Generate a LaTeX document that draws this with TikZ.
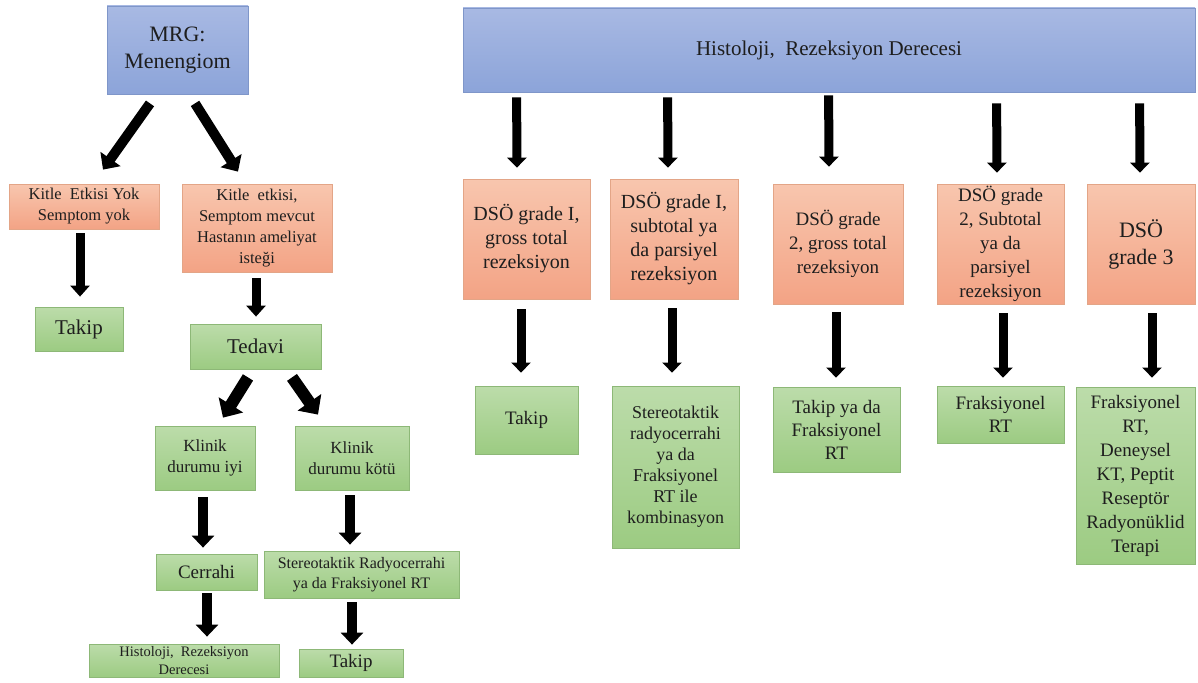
\documentclass[tikz,border=0pt]{standalone}
\usepackage{fontspec}
\setmainfont{Liberation Serif}
\usetikzlibrary{arrows.meta,calc}
\definecolor{txt}{HTML}{1E1E1E}
\definecolor{blueT}{HTML}{A8B9E3}
\definecolor{blueB}{HTML}{8CA4D9}
\definecolor{blueD}{HTML}{7F96C9}
\definecolor{orT}{HTML}{F8C6AE}
\definecolor{orB}{HTML}{F3A385}
\definecolor{orD}{HTML}{E3A587}
\definecolor{grT}{HTML}{BCDCAA}
\definecolor{grB}{HTML}{9CCB82}
\definecolor{grD}{HTML}{8DB877}
\newcommand\myfs[2]{\fontsize{#1}{#2}\selectfont}
\tikzset{
  boxbase/.style={rectangle, inner sep=0pt, align=center, text=txt, line width=0.8pt},
  bluebox/.style={boxbase, draw=blueD, top color=blueT, bottom color=blueB},
  orbox/.style={boxbase, draw=orD, top color=orT, bottom color=orB},
  grbox/.style={boxbase, draw=grD, top color=grT, bottom color=grB},
  arrv/.style={draw=black, line width=9pt, -{Triangle[width=19pt,length=10pt]}},
  arrm/.style={draw=black, line width=9pt, -{Triangle[width=19pt,length=11pt]}},
  arrl/.style={draw=black, line width=10pt, -{Triangle[width=22pt,length=12pt]}},
  arrd/.style={draw=black, line width=10pt, -{Triangle[width=24pt,length=13pt]}},
  arrD/.style={draw=black, line width=12pt, -{Triangle[width=28pt,length=15pt]}},
}
\begin{document}
\begin{tikzpicture}[x=1pt,y=-1pt]
\useasboundingbox[fill=white] (0,0) rectangle (1198,682);
% left column
\node[bluebox, minimum width=141pt, minimum height=88pt, font=\myfs{22}{27}] (mrg) at (177.5,50) {MRG:\\Menengiom};
\node[orbox, minimum width=150pt, minimum height=45pt, font=\myfs{16.5}{21}] (kyok) at (84,206.5) {Kitle\ \ Etkisi Yok\\Semptom yok};
\node[orbox, minimum width=150pt, minimum height=88pt, font=\myfs{16.5}{21}] (kvar) at (257,228) {Kitle\ \ etkisi,\\Semptom mevcut\\Hastanın ameliyat\\isteği};
\node[grbox, minimum width=88pt, minimum height=44pt, font=\myfs{21}{25}] (takipa) at (79,329) {Takip};
\node[grbox, minimum width=131pt, minimum height=45pt, font=\myfs{21}{25}] (tedavi) at (255.5,346.5) {Tedavi};
\node[grbox, minimum width=100pt, minimum height=64pt, font=\myfs{17}{21}] (kiyi) at (205,458) {Klinik\\durumu iyi};
\node[grbox, minimum width=114pt, minimum height=64pt, font=\myfs{17}{21}] (kkotu) at (352,458) {Klinik\\durumu kötü};
\node[grbox, minimum width=101pt, minimum height=36pt, font=\myfs{19}{23}] (cerrahi) at (206.5,572) {Cerrahi};
\node[grbox, minimum width=195pt, minimum height=47pt, font=\myfs{16}{20}] (stra) at (361.5,574.5) {Stereotaktik Radyocerrahi\\ya da Fraksiyonel RT};
\node[grbox, minimum width=190pt, minimum height=33pt, font=\myfs{14.5}{18}] (hista) at (184,660.5) {Histoloji,\ \ Rezeksiyon\\Derecesi};
\node[grbox, minimum width=104pt, minimum height=28pt, font=\myfs{19}{23}] (takipb) at (351,663) {Takip};
% right part
\node[bluebox, minimum width=732pt, minimum height=84pt, font=\myfs{21}{25}] (hist) at (829,50) {Histoloji,\ \ Rezeksiyon Derecesi};
\node[orbox, minimum width=127pt, minimum height=120pt, font=\myfs{20}{24}] (oA) at (526.5,239) {DSÖ grade I,\\gross total\\rezeksiyon};
\node[orbox, minimum width=128pt, minimum height=120pt, font=\myfs{20}{24}] (oB) at (674,239) {DSÖ grade I,\\subtotal ya\\da parsiyel\\rezeksiyon};
\node[orbox, minimum width=130pt, minimum height=120pt, font=\myfs{19}{24}] (oC) at (838,244) {DSÖ grade\\2, gross total\\rezeksiyon};
\node[orbox, minimum width=127pt, minimum height=120pt, font=\myfs{19}{24}] (oD) at (1000.5,244) {DSÖ grade\\2, Subtotal\\ya da\\parsiyel\\rezeksiyon};
\node[orbox, minimum width=108pt, minimum height=120pt, font=\myfs{22}{27}] (oE) at (1141,244) {DSÖ\\grade 3};
\node[grbox, minimum width=103pt, minimum height=68pt, font=\myfs{19}{23}] (gA) at (526.5,420) {Takip};
\node[grbox, minimum width=127pt, minimum height=162pt, font=\myfs{18}{21}] (gB) at (675.5,467) {Stereotaktik\\radyocerrahi\\ya da\\Fraksiyonel\\RT ile\\kombinasyon};
\node[grbox, minimum width=127pt, minimum height=85pt, font=\myfs{19}{23}] (gC) at (836.5,429.5) {Takip ya da\\Fraksiyonel\\RT};
\node[grbox, minimum width=127pt, minimum height=57pt, font=\myfs{19}{23}] (gD) at (1000.5,414.5) {Fraksiyonel\\RT};
\node[grbox, minimum width=119pt, minimum height=177pt, font=\myfs{19}{24}] (gE) at (1135.5,475.5) {Fraksiyonel\\RT,\\Deneysel\\KT, Peptit\\Reseptör\\Radyonüklid\\Terapi};
% left arrows
\draw[arrd] ($(mrg.south)+(-27.5,9)$) -- ($(kyok.north)+(19,-14)$);
\draw[arrd] ($(mrg.south)+(17.5,9)$) -- ($(kvar.north)+(-19,-12)$);
\draw[arrm] ($(kyok.south)+(-4,4)$) -- ($(takipa.north)+(1,-10)$);
\draw[arrm] ($(kvar.south)+(-1,6)$) -- ($(tedavi.north)+(0.5,-7)$);
\draw[arrD] ($(tedavi.south)+(-7.5,8)$) -- ($(kiyi.north)+(18,-8)$);
\draw[arrD] ($(tedavi.south)+(36.5,8)$) -- ($(kkotu.north)+(-34,-11)$);
\draw[arrl] ($(kiyi.south)+(-2,7)$) -- ($(cerrahi.north)+(-3.5,-6)$);
\draw[arrl] ($(kkotu.south)+(-2,5)$) -- ($(stra.north)+(-11.5,-6)$);
\draw[arrl] ($(cerrahi.south)+(0.5,3)$) -- ($(hista.north)+(23,-7)$);
\draw[arrl] ($(stra.south)+(-9.5,4)$) -- ($(takipb.north)+(1,-4)$);
% right arrows
\draw[arrv] ($(hist.south west)+(54,5)$) -- ($(oA.north)+(-9.5,-11)$);
\draw[arrv] ($(hist.south west)+(205,5)$) -- ($(oB.north)+(-6,-11)$);
\draw[arrv] ($(hist.south west)+(366,3)$) -- ($(oC.north)+(-9,-17)$);
\draw[arrv] ($(hist.south west)+(534,11)$) -- ($(oD.north)+(-3.5,-11)$);
\draw[arrv] ($(hist.south west)+(677,11)$) -- ($(oE.north)+(-1,-11)$);
\draw[arrv] ($(oA.south)+(-5.5,10)$) -- ($(gA.north)+(-5.5,-13)$);
\draw[arrv] ($(oB.south)+(-2,9)$) -- ($(gB.north)+(-3.5,-13)$);
\draw[arrv] ($(oC.south)+(-2,8)$) -- ($(gC.north)+(-0.5,-9)$);
\draw[arrv] ($(oD.south)+(2.5,9)$) -- ($(gD.north)+(2.5,-8)$);
\draw[arrv] ($(oE.south)+(11,9)$) -- ($(gE.north)+(16.5,-9)$);
\end{tikzpicture}
\end{document}
